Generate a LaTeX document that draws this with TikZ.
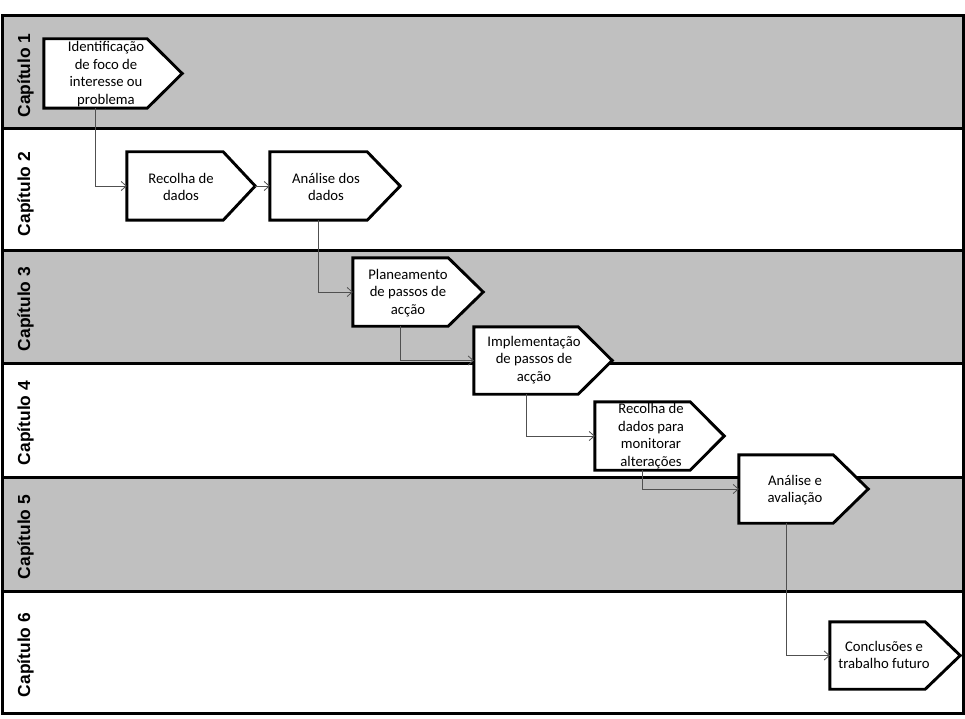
\documentclass[tikz,border=0pt]{standalone}
\usepackage{fontspec}
\setmainfont{Carlito}
\newfontfamily\lanefont{Liberation Sans}
\usetikzlibrary{arrows.meta,calc}
\begin{document}
\begin{tikzpicture}[x=1pt,y=-1pt,
  lanegray/.style={fill=lanefill,draw=none},
  laneline/.style={line width=3pt,black},
  lanelabel/.style={rotate=90,font=\lanefont\bfseries\fontsize{17.4}{19}\selectfont,inner sep=0pt},
  body/.style={rectangle,inner sep=0pt,draw=none},
  chevline/.style={line width=2.9pt,black,fill=white,line join=miter},
  chevtext/.style={align=center,inner sep=0pt,font=\fontsize{14.7}{17.5}\selectfont},
  conn/.style={line width=0.9pt,draw=conncol,-{Straight Barb[length=5pt,width=9pt,line width=0.8pt]}}
]
\definecolor{lanefill}{HTML}{C0C0C0}
\definecolor{conncol}{HTML}{505050}
\useasboundingbox (0,0) rectangle (965,719);
% lanes
\fill[lanegray] (2,16) rectangle (963,129);
\fill[white] (2,129) rectangle (963,250);
\fill[lanegray] (2,250) rectangle (963,363);
\fill[white] (2,363) rectangle (963,477);
\fill[lanegray] (2,477) rectangle (963,591);
\fill[white] (2,591) rectangle (963,713);
\draw[laneline] (2,129) -- (963,129);
\draw[laneline] (2,250) -- (963,250);
\draw[laneline] (2,363) -- (963,363);
\draw[laneline] (2,477) -- (963,477);
\draw[laneline] (2,591) -- (963,591);
\draw[laneline] (2,16) rectangle (963,713);
% lane labels
\node[lanelabel] (l1) at (25.5,75.5) {Capítulo 1};
\node[lanelabel] (l2) at (25.5,194) {Capítulo 2};
\node[lanelabel] (l3) at (25.5,309) {Capítulo 3};
\node[lanelabel] (l4) at (25.5,423) {Capítulo 4};
\node[lanelabel] (l5) at (25.5,537) {Capítulo 5};
\node[lanelabel] (l6) at (25.5,655) {Capítulo 6};
% chevron bodies
\newcommand\chevbox[5]{%
  \node[body,minimum width=#3,minimum height=#4] (#1) at #2 {};
  \draw[chevline] (#1.north west) -- (#1.north east) -- ($(#1.east)+(#5,0)$) -- (#1.south east) -- (#1.south west) -- cycle;
}
\chevbox{n1}{(95.5,73.5)}{103}{69}{35}
\chevbox{n2}{(175,186)}{96}{68}{32}
\chevbox{n3}{(318.5,186)}{97}{68}{33}
\chevbox{n4}{(400.5,292)}{95}{68}{35}
\chevbox{n5}{(526,360.5)}{104}{67}{34}
\chevbox{n6}{(642.5,436)}{95}{68}{34}
\chevbox{n7}{(786,489)}{94}{68}{35}
\chevbox{n8}{(877.5,655.5)}{95}{67}{35}
% texts
\node[chevtext] (t1) at (106,74) {Identificação\\de foco de\\interesse ou\\problema};
\node[chevtext] (t2) at (181,187) {Recolha de\\dados};
\node[chevtext] (t3) at (326,187) {Análise dos\\dados};
\node[chevtext] (t4) at (408,293) {Planeamento\\de passos de\\acção};
\node[chevtext] (t5) at (534,360) {Implementação\\de passos de\\acção};
\node[chevtext] (t6) at (651,436) {Recolha de\\dados para\\monitorar\\alterações};
\node[chevtext] (t7) at (795,490) {Análise e\\avaliação};
\node[chevtext] (t8) at (884,655) {Conclusões e\\trabalho futuro};
% connectors
\coordinate (n2tip) at ($(n2.east)+(32,0)$);
\draw[conn] (n1.south) |- (n2.west);
\draw[conn] (n2tip) -- (n3.west);
\draw[conn] (n3.south) |- (n4.west);
\draw[conn] (n4.south) |- (n5.west);
\draw[conn] (n5.south) |- (n6.west);
\draw[conn] (n6.south) |- (n7.west);
\draw[conn] (n7.south) |- (n8.west);
\end{tikzpicture}
\end{document}
